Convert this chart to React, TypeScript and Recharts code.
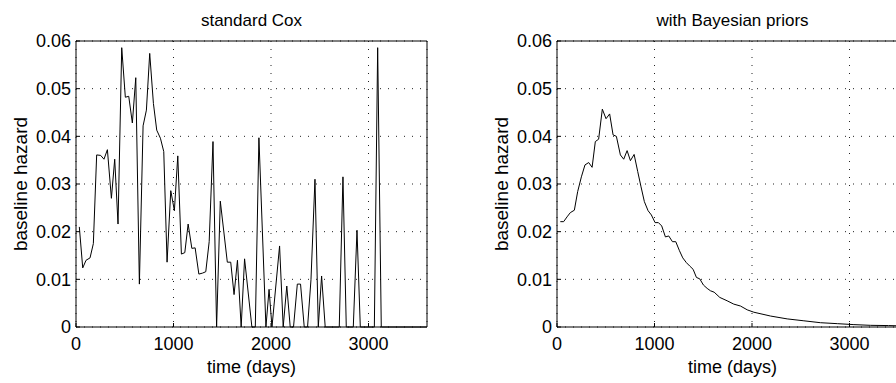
import { CartesianGrid, Line, LineChart, XAxis, YAxis } from "recharts";

// standard Cox estimate (days, hazard)
const coxDays = [
  34, 69, 103, 144, 178, 212, 253, 287, 322, 363, 397, 431, 469, 506, 541, 578, 613, 650, 688, 722,
  756, 794, 828, 866, 900, 934, 972, 1009, 1044, 1081, 1116, 1150, 1188, 1222, 1260, 1297, 1331, 1366,
  1405, 1442, 1480, 1552, 1587, 1621, 1656, 1694, 1729, 1804, 1839, 1876, 1948, 1980, 2010, 2088, 2125,
  2162, 2197, 2231, 2270, 2303, 2341, 2375, 2410, 2451, 2485, 2519, 2556, 2700, 2738, 2772, 2844, 2882,
  2916, 3060, 3094, 3131, 3600,
];
const coxHazard = [
  0.021, 0.0124, 0.014, 0.0145, 0.0175, 0.0361, 0.036, 0.0352, 0.0372, 0.027, 0.0352, 0.0216, 0.0586,
  0.0482, 0.0484, 0.0428, 0.0523, 0.009, 0.0422, 0.0455, 0.0574, 0.0469, 0.0413, 0.0396, 0.0368, 0.0136,
  0.0286, 0.0244, 0.0359, 0.0153, 0.0156, 0.0216, 0.0165, 0.0166, 0.0111, 0.0113, 0.0116, 0.0179, 0.0389,
  0, 0.0264, 0.0136, 0.0136, 0.0068, 0.014, 0, 0.0143, 0, 0, 0.0397, 0, 0.0079, 0, 0.017, 0, 0.0086, 0,
  0, 0.009, 0.009, 0, 0, 0.0099, 0.031, 0, 0.0107, 0, 0, 0.0315, 0, 0, 0.0203, 0, 0, 0.0586, 0, 0,
];

// estimate with Bayesian priors
const bayesDays = [
  34, 68, 103, 137, 178, 212, 250, 287, 325, 360, 393, 427, 465, 503, 540, 575, 609, 650, 684, 719, 753,
  791, 828, 862, 896, 934, 968, 1006, 1040, 1074, 1112, 1146, 1184, 1218, 1256, 1290, 1327, 1361, 1396,
  1430, 1464, 1502, 1540, 1574, 1612, 1670, 1745, 1813, 1882, 1951, 2019, 2190, 2361, 2532, 2703, 2875,
  3045, 3217, 3400, 3600,
];
const bayesHazard = [
  0.0221, 0.0221, 0.0231, 0.024, 0.0245, 0.0284, 0.0315, 0.034, 0.0345, 0.0335, 0.0389, 0.0394, 0.0457,
  0.0437, 0.0447, 0.0403, 0.04, 0.0361, 0.0352, 0.037, 0.0349, 0.0362, 0.0326, 0.0294, 0.0263, 0.0244,
  0.0235, 0.0219, 0.0219, 0.0212, 0.0189, 0.0191, 0.0179, 0.0179, 0.016, 0.0145, 0.0135, 0.0128, 0.0121,
  0.0104, 0.0101, 0.0088, 0.0081, 0.0076, 0.0073, 0.0062, 0.0055, 0.0048, 0.0044, 0.0036, 0.0031, 0.0023,
  0.0017, 0.0013, 0.0009, 0.0007, 0.0005, 0.00035, 0.0003, 0.0002,
];

const xTicks = [0, 1000, 2000, 3000];
const yTicks = [0, 0.01, 0.02, 0.03, 0.04, 0.05, 0.06];

const font = "'Liberation Sans', Arial, Helvetica, sans-serif";
const textStyle = { fontFamily: font, fontSize: 18, fill: "#000" };

function Panel({ title, days, hazard }: { title: string; days: number[]; hazard: number[] }) {
  const data = days.map((t, i) => ({ t, h: hazard[i] }));
  return (
    <LineChart width={450} height={383} data={data} margin={{ top: 40, right: 22, bottom: 26, left: 0 }}>
      <CartesianGrid stroke="#222" strokeDasharray="1 7" strokeWidth={1} />
      <XAxis
        type="number"
        dataKey="t"
        domain={[0, 3600]}
        ticks={xTicks}
        allowDataOverflow
        height={30}
        tickSize={-4}
        tickMargin={14}
        stroke="#000"
        tick={textStyle}
        label={{ value: "time (days)", position: "insideBottom", offset: -16, style: textStyle }}
      />
      <XAxis
        xAxisId="top"
        orientation="top"
        type="number"
        dataKey="t"
        domain={[0, 3600]}
        ticks={xTicks}
        height={1}
        tickSize={-4}
        tick={false}
        stroke="#000"
        label={{ value: title, position: "top", offset: 14, style: { ...textStyle, fontSize: 17 } }}
      />
      <YAxis
        domain={[0, 0.06]}
        ticks={yTicks}
        width={76}
        tickSize={-4}
        tickMargin={9}
        stroke="#000"
        tick={textStyle}
        tickFormatter={(v: number) => (v === 0 ? "0" : v.toFixed(2))}
        label={{
          content: ({ viewBox }: any) => (
            <text
              transform={`translate(${viewBox.x + 27},${viewBox.y + viewBox.height / 2}) rotate(-90)`}
              textAnchor="middle"
              style={{ ...textStyle, fontSize: 19 }}
            >
              baseline hazard
            </text>
          ),
        }}
      />
      <YAxis
        yAxisId="right"
        orientation="right"
        domain={[0, 0.06]}
        ticks={yTicks}
        width={1}
        tickSize={-4}
        tick={false}
        stroke="#000"
      />
      <Line
        type="linear"
        dataKey="h"
        stroke="#000"
        strokeWidth={1}
        dot={false}
        isAnimationActive={false}
      />
    </LineChart>
  );
}

export default function App() {
  return (
    <div style={{ position: "fixed", left: 0, top: 0, width: 896, height: 383, overflow: "hidden", background: "#fff" }}>
      <div style={{ position: "absolute", left: 0, top: 0 }}>
        <Panel title="standard Cox" days={coxDays} hazard={coxHazard} />
      </div>
      <div style={{ position: "absolute", left: 480.7, top: 0 }}>
        <Panel title="with Bayesian priors" days={bayesDays} hazard={bayesHazard} />
      </div>
    </div>
  );
}
